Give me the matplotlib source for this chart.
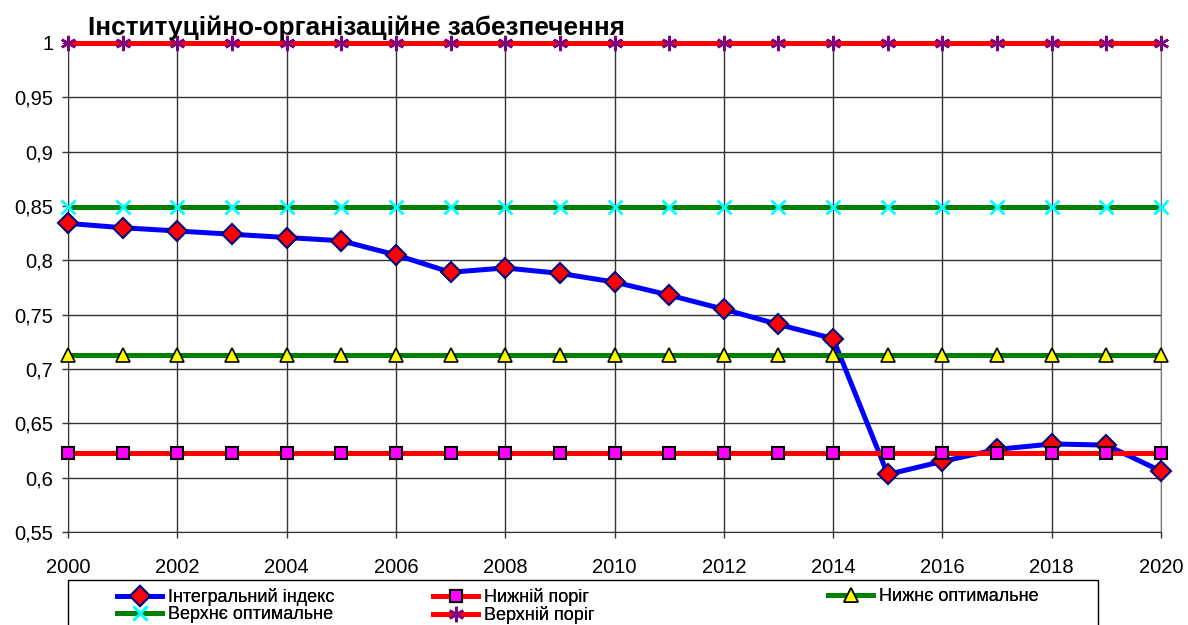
import matplotlib
matplotlib.use('Agg')
import matplotlib.pyplot as plt
from matplotlib.patches import Rectangle
from matplotlib.ticker import MultipleLocator, FuncFormatter

plt.rcParams['font.family'] = ['Liberation Sans', 'DejaVu Sans']

#-------------------------------
# data

years = list(range(2000, 2021))
integral_index = [0.834, 0.830, 0.827, 0.824, 0.821, 0.818, 0.805, 0.789, 0.793, 0.788,
                  0.780, 0.768, 0.755, 0.741, 0.728, 0.603, 0.615, 0.626, 0.631, 0.630, 0.606]
lower_threshold = 0.623
lower_optimum = 0.713
upper_optimum = 0.849
upper_threshold = 1.0

title = 'Інституційно-організаційне забезпечення'
labels = ['Інтегральний індекс', 'Нижній поріг', 'Нижнє оптимальне',
          'Верхнє оптимальне', 'Верхній поріг']

W, H = 1188, 625

#-------------------------------
# figure

fig = plt.figure(figsize=(W / 100, H / 100), dpi=100)
ax = fig.add_axes([68 / W, 93 / H, (1161 - 68) / W, (532 - 43) / H])

n = len(years)
lw = 3.6
h1, = ax.plot(years, integral_index, color='blue', lw=lw, marker='D', ms=10,
              mfc='red', mec='navy', mew=1.5, zorder=3, label=labels[0])
h2, = ax.plot(years, [lower_threshold] * n, color='red', lw=lw, marker='s', ms=8,
              mfc='magenta', mec='black', mew=1.5, zorder=4, label=labels[1])
h3, = ax.plot(years, [lower_optimum] * n, color='green', lw=lw, marker='^', ms=10,
              mfc='yellow', mec='black', mew=1.2, zorder=5, label=labels[2])
h4, = ax.plot(years, [upper_optimum] * n, color='green', lw=lw, marker='x', ms=10,
              mec='cyan', mew=2, zorder=6, label=labels[3])
h5, = ax.plot(years, [upper_threshold] * n, color='red', lw=lw, marker=(6, 2, 0), ms=11,
              mec='purple', mew=1.8, zorder=7, label=labels[4])
for h in (h1, h2, h3, h4, h5):
    h.set_clip_on(False)

ax.set_xlim(2000, 2020)
ax.set_ylim(0.55, 1.0)
ax.xaxis.set_major_locator(MultipleLocator(2))
ax.yaxis.set_major_locator(MultipleLocator(0.05))
ax.yaxis.set_major_formatter(FuncFormatter(lambda v, p: ('%g' % round(v, 2)).replace('.', ',')))
ax.grid(True, color='#333333', lw=1)
ax.set_axisbelow(True)
ax.tick_params(direction='out', length=4.5, width=1, labelsize=14.5, color='#333333')
ax.tick_params(axis='y', pad=6)
ax.tick_params(axis='x', pad=14)
for s in ['top', 'right']:
    ax.spines[s].set_color('#777777')
ax.spines['left'].set_color('#333333')
ax.spines['bottom'].set_color('#333333')

fig.text(88 / W, 1 - 28 / H, title, fontsize=18.8, fontweight='bold', va='center', ha='left',
         zorder=10)

# legend: frame plus three columns placed like the original
fig.patches.append(Rectangle((68 / W, -0.05), (1098 - 68) / W, 0.05 + 1 - 580 / H,
                             transform=fig.transFigure, fill=False, ec='black', lw=1))
columns = [([h1, h4], [labels[0], labels[3]], 117),
           ([h2, h5], [labels[1], labels[4]], 433),
           ([h3], [labels[2]], 828)]
for handles, texts, x0 in columns:
    lg = fig.legend(handles, texts, loc='upper left', bbox_to_anchor=(x0 / W, 1 - 588 / H),
                    fontsize=13, frameon=False, handlelength=2.5, handletextpad=0.3,
                    labelspacing=0.0, borderpad=0, borderaxespad=0)
    fig.add_artist(lg)

fig.savefig('out.png', dpi=100)
